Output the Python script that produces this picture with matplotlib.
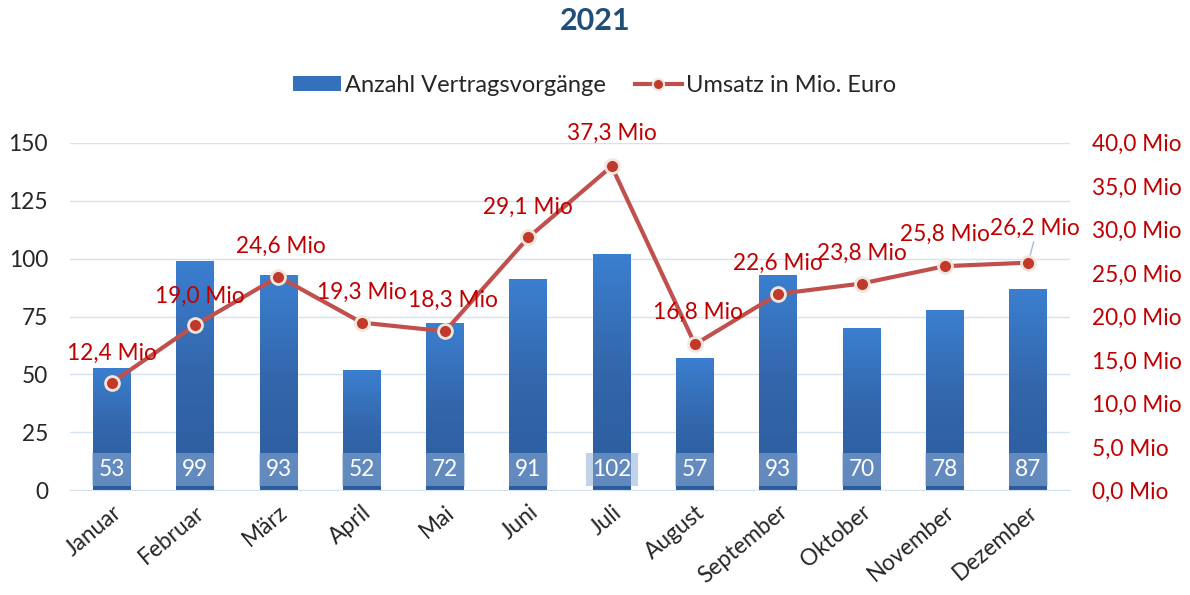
import matplotlib
matplotlib.use("Agg")
import matplotlib.pyplot as plt
import numpy as np
from matplotlib.lines import Line2D
from matplotlib.patches import Patch
from matplotlib.colors import LinearSegmentedColormap

months = ["Januar", "Februar", "März", "April", "Mai", "Juni", "Juli",
          "August", "September", "Oktober", "November", "Dezember"]
vertraege = [53, 99, 93, 52, 72, 91, 102, 57, 93, 70, 78, 87]
umsatz = [12.4, 19.0, 24.6, 19.3, 18.3, 29.1, 37.3, 16.8, 22.6, 23.8, 25.8, 26.2]
left_ticks = [0, 25, 50, 75, 100, 125, 150]
right_ticks = [0, 5, 10, 15, 20, 25, 30, 35, 40]

plt.rcParams['font.family'] = ['Lato', 'DejaVu Sans']

FS = 16.3

fig = plt.figure(figsize=(11.9, 5.95), dpi=100)
ax = fig.add_axes([0.059, 0.176, 0.840, 0.584])
ax2 = ax.twinx()

x = np.arange(len(months))
bars = ax.bar(x, vertraege, width=0.455, color="#3470bb", zorder=2)

grad = np.linspace(0, 1, 256).reshape(-1, 1)
cmap = LinearSegmentedColormap.from_list("b", ["#2b5d9e", "#3366aa", "#3b7fd0"])
for b in bars:
    x0, y0 = b.get_x(), b.get_y()
    w, h = b.get_width(), b.get_height()
    im = ax.imshow(grad, extent=[x0, x0 + w, y0, y0 + h], origin="lower",
                   cmap=cmap, aspect="auto", zorder=2.1)
    im.set_clip_path(b)

ax.set_xlim(-0.5, len(months) - 0.5)
ax.set_ylim(0, 150)
ax.set_yticks(left_ticks)
ax2.set_ylim(0, 40)
ax2.set_yticks(right_ticks)
ax2.set_yticklabels([f"{v:.1f}".replace(".", ",") + " Mio" for v in right_ticks])

ax.grid(axis="y", color="#d6e2f0", linewidth=1.0, zorder=0)
ax.set_axisbelow(True)
for a in (ax, ax2):
    for s in a.spines.values():
        s.set_visible(False)
ax.spines["bottom"].set_visible(True)
ax.spines["bottom"].set_color("#d6e2f0")

ax.tick_params(axis="y", length=0, labelsize=FS, labelcolor="#262626", pad=16)
ax2.tick_params(axis="y", length=0, labelsize=FS, labelcolor="#c00000", pad=16)
ax.set_xticks(x)
ax.set_xticklabels(months, rotation=40, ha="right", rotation_mode="anchor")
ax.tick_params(axis="x", length=0, labelsize=FS, labelcolor="#262626", pad=8)

for xi, v in zip(x, vertraege):
    ax.annotate(str(v), (xi, 0), xytext=(0, 15), textcoords="offset points",
                ha="center", va="center", color="white", fontsize=FS, zorder=5,
                bbox=dict(boxstyle="square,pad=0.28", facecolor="#8fafd7", alpha=0.55,
                          edgecolor="none"))

ax2.plot(x, umsatz, color="#c0504d", linewidth=3, marker="o", markersize=10,
         markerfacecolor="#c0392b", markeredgecolor="#f2e6dc", markeredgewidth=2, zorder=6)
ax2.set_zorder(ax.get_zorder() + 1)
ax2.patch.set_visible(False)

offsets = [(0, 21), (3, 21), (2, 22), (0, 22), (6, 22), (0, 22), (0, 24),
           (2, 23), (0, 22), (0, 22), (0, 23), (5, 25)]
for i, (xi, v, off) in enumerate(zip(x, umsatz, offsets)):
    ax2.annotate(f"{v:.1f}".replace(".", ",") + " Mio", (xi, v), xytext=off,
                 textcoords="offset points", ha="center", va="center",
                 color="#c00000", fontsize=FS, zorder=7)
# small leader line for the last label
ax2.annotate("", (x[-1], umsatz[-1]), xytext=(4, 15), textcoords="offset points",
             arrowprops=dict(arrowstyle="-", color="#9dbbe0", lw=1.0,
                             shrinkA=0, shrinkB=0), zorder=5)

fig.text(0.5, 0.965, "2021", ha="center", va="center", fontsize=22,
         fontweight="bold", color="#1f4e79")

handles = [Patch(facecolor="#3470bb", edgecolor="none"),
           Line2D([0], [0], color="#c0504d", linewidth=3, marker="o", markersize=8,
                  markerfacecolor="#c0392b", markeredgecolor="#f2e6dc", markeredgewidth=1.5)]
fig.legend(handles, ["Anzahl Vertragsvorgänge", "Umsatz in Mio. Euro"],
           loc="center", bbox_to_anchor=(0.5, 0.857), ncol=2, frameon=False,
           fontsize=17, handlelength=2.0, handleheight=0.6, handletextpad=0.2,
           columnspacing=1.2, labelcolor="#262626")

fig.savefig("out.png", dpi=100)
